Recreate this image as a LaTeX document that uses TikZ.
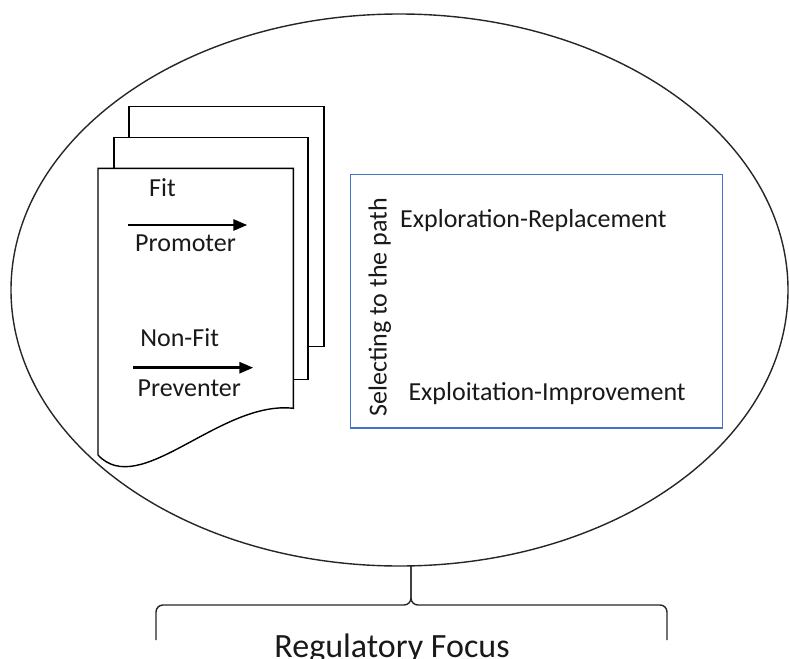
\documentclass[tikz,border=0pt]{standalone}
\usepackage{fontspec}
\setmainfont{Carlito}
\usetikzlibrary{shapes.geometric,arrows.meta}
\definecolor{boxblue}{RGB}{68,114,196}
\begin{document}
\begin{tikzpicture}[x=1pt,y=-1pt,
  page/.style={draw=black, fill=white, line width=1.4pt},
  lbl/.style={font=\fontsize{26}{30}\selectfont, text=black!90, inner sep=0pt, anchor=base},
  flow/.style={line width=2.8pt, -{Triangle[length=14pt,width=11pt]}},
  brace/.style={draw=black!85, line width=1.4pt, rounded corners=7pt},
]
\useasboundingbox (0,0) rectangle (789,658);
\node[ellipse, draw=black!85, line width=1.4pt, minimum width=777pt, minimum height=552pt, inner sep=0pt] (oval) at (399.5,290) {};
% stacked pages
\draw[page] (129,106.7) rectangle (324,346.7);
\draw[page] (114,137.3) rectangle (308,379.3);
\draw[page] (98,168.3) -- (293.3,168.3) -- (293.3,408.3) .. controls (220,400) and (140,500) .. (98,455) -- cycle;
% page texts
\node[lbl] (fit) at (162.5,196.7) {Fit};
\node[lbl, anchor=base west] (prom) at (135,251.5) {Promoter};
\node[lbl] (nonfit) at (179.7,346.7) {Non-Fit};
\node[lbl] (prev) at (189.3,396.7) {Preventer};
\coordinate (a1s) at (128.3,225);
\coordinate (a1e) at (247.3,225);
\coordinate (a2s) at (133.3,367.7);
\coordinate (a2e) at (253.3,367.7);
\draw[flow] (a1s) -- (a1e);
\draw[flow] (a2s) -- (a2e);
% blue box
\node[draw=boxblue, line width=1.4pt, minimum width=372pt, minimum height=253.7pt, inner sep=0pt] (box) at (536.6,301.2) {};
\node[lbl, anchor=base west] (explor) at (400,227.5) {Exploration-Replacement};
\node[lbl, anchor=base west] (exploit) at (408.3,400) {Exploitation-Improvement};
\node[lbl, rotate=90] (sel) at (386.5,307.5) {Selecting to the path};
% brace
\coordinate (bl) at (156,640);
\coordinate (br) at (667,640);
\coordinate (cusp) at (411,605);
\coordinate (btop) at (411,566);
\draw[brace] (bl) -- (156,605) -- (cusp) -- (btop);
\draw[brace] (br) -- (667,605) -- (cusp) -- (btop);
\node[font=\fontsize{34}{38}\selectfont, text=black!90, anchor=base, inner sep=0pt] (rf) at (392,657) {Regulatory Focus};
\end{tikzpicture}
\end{document}
